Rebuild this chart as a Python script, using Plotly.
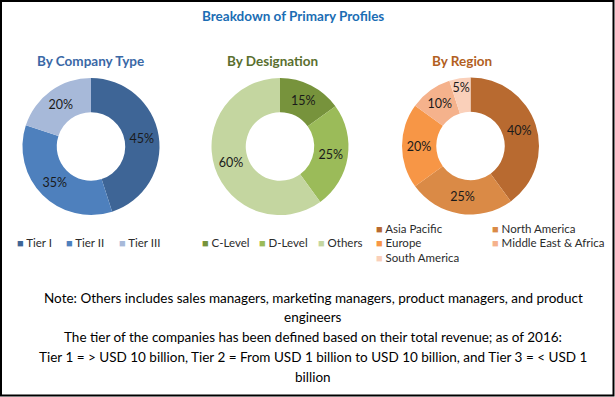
import plotly.graph_objects as go

W, H = 615, 397

# ---- data ----
company_labels = ["Tier I", "Tier II", "Tier III"]
company_values = [45, 35, 20]
company_colors = ["#3E6596", "#4E80BD", "#A7B9D9"]

designation_labels = ["C-Level", "D-Level", "Others"]
designation_values = [15, 25, 60]
designation_colors = ["#77933C", "#9BBB59", "#C4D6A0"]

region_labels = ["Asia Pacific", "North America", "Europe", "Middle East & Africa", "South America"]
region_values = [40, 25, 20, 10, 5]
region_colors = ["#B86A30", "#DA8A46", "#F79646", "#F5B28C", "#FAD0BA"]

title_text = "Breakdown of Primary Profiles"
subtitles = ["By Company Type", "By Designation", "By Region"]
note_lines = [
    "Note: Others includes sales managers, marketing managers, product managers, and product",
    "engineers",
    "The tier of the companies has been defined based on their total revenue; as of 2016:",
    "Tier 1 = > USD 10 billion, Tier 2 = From USD 1 billion to USD 10 billion, and Tier 3 = < USD 1",
    "billion",
]

FONT = "Lato, 'Open Sans', sans-serif"


def px_x(x):
    return x / W


def px_y(y):
    return 1 - y / H


def domain(cx, cy, r):
    return dict(x=[px_x(cx - r), px_x(cx + r)], y=[px_y(cy + r), px_y(cy - r)])


fig = go.Figure()

pies = [
    (company_labels, company_values, company_colors, (91, 146.5, 68.5)),
    (designation_labels, designation_values, designation_colors, (280, 146.5, 68.5)),
    (region_labels, region_values, region_colors, (470.5, 146, 68.5)),
]
for labels, values, colors, (cx, cy, r) in pies:
    fig.add_trace(go.Pie(
        labels=labels, values=values, hole=0.5, sort=False, direction="clockwise",
        rotation=0, domain=domain(cx, cy, r),
        marker=dict(colors=colors, line=dict(width=0)),
        texttemplate="%{value}%", textposition="inside",
        insidetextorientation="horizontal",
        textfont=dict(family=FONT, size=12.5, color="#1a1a1a"),
        showlegend=False, hoverinfo="label+value",
    ))

annotations = []
# main title
annotations.append(dict(x=px_x(293), y=px_y(16), text=f"<b>{title_text}</b>", showarrow=False,
                        xanchor="center", yanchor="middle",
                        font=dict(family=FONT, size=13.5, color="#1B6DB4")))
sub_pos = [(90, 61, "#3A68A6"), (272, 61, "#5A6F2E"), (462, 61, "#B25F22")]
for txt, (x, y, c) in zip(subtitles, sub_pos):
    annotations.append(dict(x=px_x(x), y=px_y(y), text=f"<b>{txt}</b>", showarrow=False,
                            xanchor="center", yanchor="middle",
                            font=dict(family=FONT, size=13.5, color=c)))


def legend_entry(label, color, x, y):
    return dict(x=px_x(x), y=px_y(y), xanchor="left", yanchor="middle", showarrow=False,
                text=f'<span style="color:{color};font-size:11px">■</span> {label}',
                font=dict(family=FONT, size=11.5, color="#2b2b2b"))


for lab, col, x in zip(company_labels, company_colors, [15, 64, 117]):
    annotations.append(legend_entry(lab, col, x, 242))
for lab, col, x in zip(designation_labels, designation_colors, [200, 257, 316]):
    annotations.append(legend_entry(lab, col, x, 242))
region_pos = [(374, 228), (490, 228), (374, 242), (490, 242), (374, 257)]
for lab, col, (x, y) in zip(region_labels, region_colors, region_pos):
    annotations.append(legend_entry(lab, col, x, y))

for line, y in zip(note_lines, [298, 317, 337, 357, 377]):
    annotations.append(dict(x=px_x(313), y=px_y(y), text=line, showarrow=False,
                            xanchor="center", yanchor="middle",
                            font=dict(family=FONT, size=13.5, color="#000000")))

fig.update_layout(
    width=W, height=H, margin=dict(l=0, r=0, t=0, b=0),
    paper_bgcolor="white", plot_bgcolor="white",
    annotations=annotations,
    uniformtext=dict(minsize=12, mode="show"),
    shapes=[dict(type="rect", xref="paper", yref="paper",
                 x0=px_x(1), x1=px_x(W - 1.5), y0=px_y(H - 1.5), y1=px_y(1),
                 line=dict(color="black", width=2), fillcolor="rgba(0,0,0,0)")],
)

fig.write_html(
    "out.html",
    config={"displayModeBar": False},
    post_script="document.body.style.margin='0';document.body.style.overflow='hidden';",
)
